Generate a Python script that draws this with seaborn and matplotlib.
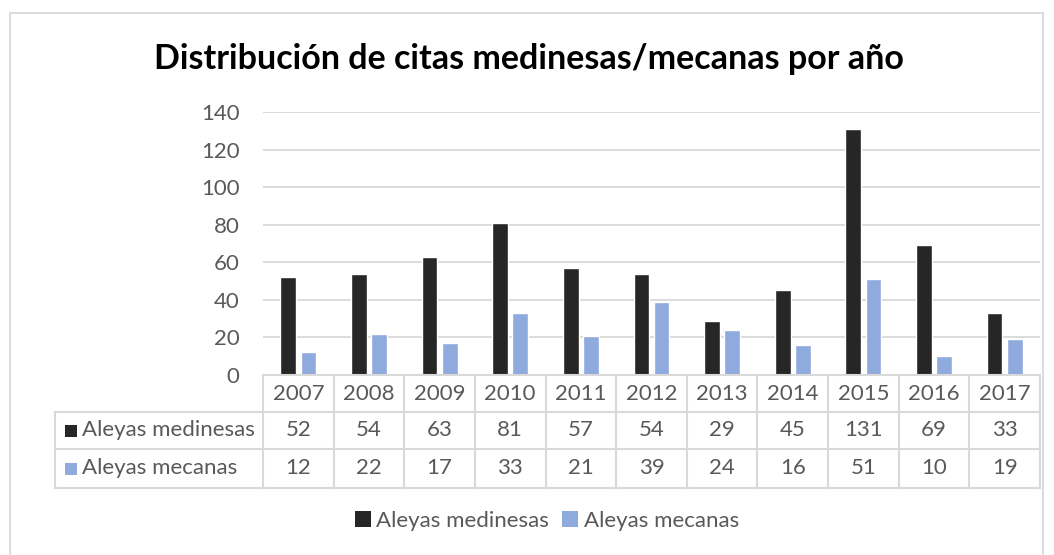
import matplotlib
matplotlib.use("Agg")
import matplotlib.pyplot as plt
import matplotlib.transforms as mtransforms
from matplotlib.patches import Patch, Rectangle
import pandas as pd
import seaborn as sns

# ---------------- data ----------------
years = ["2007", "2008", "2009", "2010", "2011", "2012", "2013", "2014", "2015", "2016", "2017"]
medinesas = [52, 54, 63, 81, 57, 54, 29, 45, 131, 69, 33]
mecanas = [12, 22, 17, 33, 21, 39, 24, 16, 51, 10, 19]
series_names = ["Aleyas medinesas", "Aleyas mecanas"]
y_ticks = [0, 20, 40, 60, 80, 100, 120, 140]
title = "Distribución de citas medinesas/mecanas por año"

colors = ["#262626", "#8FAADC"]
grid_color = "#D9D9D9"
text_color = "#595959"
FONT = "Lato"
FS = 16

df = pd.DataFrame({
    "año": years * 2,
    "citas": medinesas + mecanas,
    "serie": [series_names[0]] * len(years) + [series_names[1]] * len(years),
})

# ---------------- layout (pixels) ----------------
W, H = 1054, 555
AX_L, AX_R, AX_T, AX_B = 263, 1040, 112, 375
LABEL_L = 55
ROW_Y = [0, 37, 74, 113]  # table row borders below the axis, px

sns.set_theme(style="white")
plt.rcParams["font.family"] = [FONT, "DejaVu Sans"]

fig = plt.figure(figsize=(W / 100, H / 100), dpi=100)
fig.patch.set_facecolor("white")
ax = fig.add_axes([AX_L / W, 1 - AX_B / H, (AX_R - AX_L) / W, (AX_B - AX_T) / H])

sns.barplot(data=df, x="año", y="citas", hue="serie", palette=colors,
            width=0.57, gap=0.22, ax=ax, legend=False, saturation=1)

ax.set_ylim(0, 140)
ax.set_xlim(-0.5, len(years) - 0.5)
ax.set_yticks(y_ticks)
ax.set_yticklabels([str(t) for t in y_ticks], fontsize=FS, color=text_color)
ax.tick_params(axis="y", length=0, pad=17)
ax.tick_params(axis="x", length=0, labelbottom=False)
ax.set_xlabel("")
ax.set_ylabel("")
ax.yaxis.grid(True, color=grid_color, linewidth=1.3)
ax.set_axisbelow(True)
for s in ax.spines.values():
    s.set_visible(False)

# ---------------- data table ----------------
col_w = (AX_R - AX_L) / len(years)
ax_h = AX_B - AX_T
blend = mtransforms.blended_transform_factory(ax.transData, ax.transAxes)


def px_x(px):
    return (px - AX_L) / col_w - 0.5


def px_y(px_below):
    return -px_below / ax_h


line_kw = dict(color=grid_color, linewidth=1.5, transform=blend, clip_on=False)
x_left = px_x(LABEL_L)
x_right = len(years) - 0.5

ax.plot([-0.5, x_right], [px_y(ROW_Y[0])] * 2, **line_kw)
for r in ROW_Y[1:]:
    ax.plot([x_left, x_right], [px_y(r)] * 2, **line_kw)
for i in range(len(years) + 1):
    ax.plot([i - 0.5] * 2, [px_y(ROW_Y[0]), px_y(ROW_Y[-1])], **line_kw)
ax.plot([x_left] * 2, [px_y(ROW_Y[1]), px_y(ROW_Y[-1])], **line_kw)

txt_kw = dict(transform=blend, ha="center", va="center", fontsize=FS,
              color=text_color, clip_on=False)
for i, yr in enumerate(years):
    ax.text(i, px_y((ROW_Y[0] + ROW_Y[1]) / 2), yr, **txt_kw)
    ax.text(i, px_y((ROW_Y[1] + ROW_Y[2]) / 2), str(medinesas[i]), **txt_kw)
    ax.text(i, px_y((ROW_Y[2] + ROW_Y[3]) / 2), str(mecanas[i]), **txt_kw)

for k, (name, c) in enumerate(zip(series_names, colors)):
    yc = (ROW_Y[k + 1] + ROW_Y[k + 2]) / 2
    ax.add_patch(Rectangle((px_x(65), px_y(yc + 6)), 12 / col_w, 12 / ax_h,
                           facecolor=c, edgecolor="none", transform=blend, clip_on=False))
    ax.text(px_x(82), px_y(yc), name, transform=blend, ha="left", va="center",
            fontsize=FS, color=text_color, clip_on=False)

ax.set_xlim(-0.5, len(years) - 0.5)
ax.set_ylim(0, 140)

# ---------------- title, legend, frame ----------------
fig.text(529 / W, 1 - 59 / H, title, ha="center", va="center",
         fontsize=24.5, fontweight="bold", color="black")

handles = [Patch(facecolor=c, edgecolor="none") for c in colors]
fig.legend(handles, series_names, loc="center", bbox_to_anchor=(547 / W, 1 - 521 / H),
           ncol=2, frameon=False, fontsize=FS, handlelength=0.7, handleheight=0.7,
           handletextpad=0.25, columnspacing=0.6, labelcolor=text_color)

fig.patches.append(Rectangle((10 / W, -0.1), 1033 / W, 1 - 13 / H + 0.1,
                             transform=fig.transFigure, facecolor="none",
                             edgecolor=grid_color, linewidth=1.3))

fig.savefig("out.png", dpi=100)
